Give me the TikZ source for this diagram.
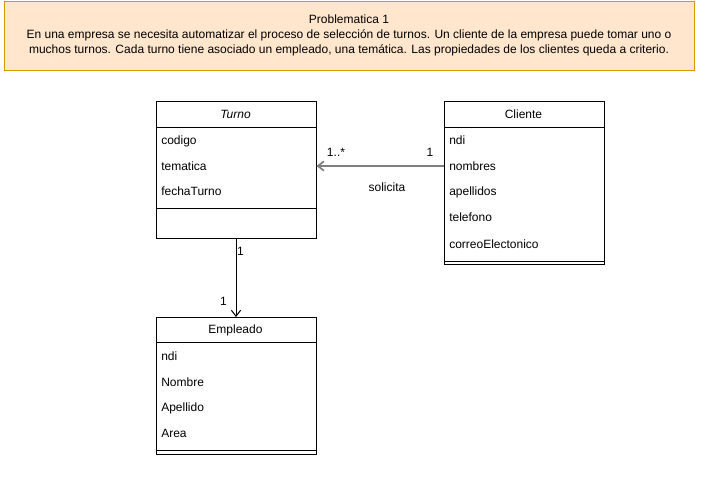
\documentclass[tikz,border=0pt]{standalone}
\usepackage{fontspec}
\setmainfont{Liberation Sans}
\usetikzlibrary{arrows.meta}
\definecolor{notefill}{HTML}{FFE6CC}
\definecolor{notedraw}{HTML}{D79B00}
\definecolor{assoc}{HTML}{808080}
\begin{document}
\begin{tikzpicture}[x=0.75pt,y=-0.75pt,
  every node/.style={font=\fontsize{9}{11.25}\selectfont},
  classbox/.style={draw=black, line width=0.75pt, fill=white, inner sep=0pt, anchor=north west, minimum width=120pt},
  attr/.style={anchor=west, inner sep=0pt, text height=8.1pt, text depth=1.9pt},
  lbl/.style={inner sep=0pt, text height=8.1pt, text depth=1.9pt},
  sep/.style={draw=black, line width=0.75pt}
]
\useasboundingbox (0,0) rectangle (711,483);
\fill[white] (0,0) rectangle (711,483);
% note
\node[draw=notedraw, fill=notefill, line width=0.75pt, anchor=north west, inner sep=0pt,
      minimum width=517.5pt, minimum height=51.75pt] (note) at (4,1) {};
\node[inner sep=0pt, align=center] (notetext) at (349,35.5) {Problematica 1\\En una empresa se necesita automatizar el proceso de selección de turnos. Un cliente de la empresa puede tomar uno o\\muchos turnos. Cada turno tiene asociado un empleado, una temática. Las propiedades de los clientes queda a criterio.};
% Turno
\node[classbox, minimum height=102.75pt] (turno) at (155.5,101) {};
\draw[sep] (155.5,127.5) -- (315.5,127.5);
\draw[sep] (155.5,208.5) -- (315.5,208.5);
\node[lbl] (turnoname) at (235.5,114) {\itshape Turno};
\node[attr] (t1) at (161,140) {codigo};
\node[attr] (t2) at (161,166) {tematica};
\node[attr] (t3) at (161,191) {fechaTurno};
% Cliente
\node[classbox, minimum height=122.25pt] (cliente) at (443.5,101) {};
\draw[sep] (443.5,127.5) -- (603.5,127.5);
\draw[sep] (443.5,261) -- (603.5,261);
\node[lbl] (clientename) at (523.5,114) {Cliente};
\node[attr] (c1) at (449,140) {ndi};
\node[attr] (c2) at (449,166) {nombres};
\node[attr] (c3) at (449,191.5) {apellidos};
\node[attr] (c4) at (449,217.5) {telefono};
\node[attr] (c5) at (449,244) {correoElectonico};
% Empleado
\node[classbox, minimum height=102.75pt] (empleado) at (155.5,317) {};
\draw[sep] (155.5,342.5) -- (315.5,342.5);
\draw[sep] (155.5,450.5) -- (315.5,450.5);
\node[lbl] (empleadoname) at (235.5,329.5) {Empleado};
\node[attr] (e1) at (161,356.5) {ndi};
\node[attr] (e2) at (161,382) {Nombre};
\node[attr] (e3) at (161,407.5) {Apellido};
\node[attr] (e4) at (161,433.5) {Area};
% associations
\draw[assoc, line width=1.3pt, -{Straight Barb[length=4.5pt,width=7pt]}]
  (cliente.west |- 0,166) -- (turno.east |- 0,166);
\node[lbl] (m1) at (336,152) {1..*};
\node[lbl] (m2) at (430,152) {1};
\node[lbl] (assocname) at (387,187.5) {solicita};
\draw[black, line width=0.75pt, -{Straight Barb[length=4.5pt,width=7pt]}]
  (turno.south) -- (empleado.north);
\node[lbl] (m3) at (240.5,251.5) {1};
\node[lbl] (m4) at (223.5,301) {1};
\end{tikzpicture}
\end{document}
